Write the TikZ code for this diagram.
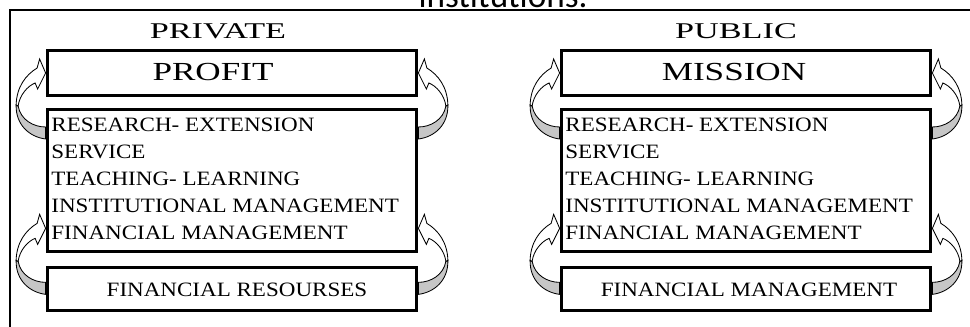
\documentclass[tikz,border=0pt]{standalone}
\usepackage{fontspec}
\setmainfont{Liberation Serif}
\newfontfamily\headfont[FakeStretch=1.52]{Liberation Serif}
\newfontfamily\titlefont[FakeStretch=1.35]{Liberation Serif}
\newfontfamily\bodyfont[FakeStretch=1.13]{Liberation Serif}
\newfontfamily\captionfont{Carlito}
\usetikzlibrary{calc,backgrounds}

\tikzset{
	block/.style={draw, line width=2.6pt, fill=white, inner sep=0pt, minimum width=9.225cm},
	headtext/.style={font=\headfont\fontsize{16}{19}\selectfont, inner sep=0pt},
	titletext/.style={font=\titlefont\fontsize{18.5}{22}\selectfont, inner sep=0pt},
	bodytext/.style={font=\bodyfont\fontsize{14.5}{17}\selectfont, inner sep=0pt},
	ribbon/.style={draw, line width=0.6pt, fill=white},
	ribbonback/.style={draw, line width=0.6pt, fill=gray!45},
	% twisted band arrow, tip at the origin, tail 54..66 below
	curl/.pic={
		\path[ribbonback] (-29.5,32) .. controls (-30,52) and (-16,64) .. (0,66) -- (0,54)
			.. controls (-12,54) and (-25,47) .. (-27.5,33) -- cycle;
		\path[ribbon] (0,0) -- (-6,-14) -- (-8.5,-5) .. controls (-20,2) and (-29,14) .. (-29.5,32)
			-- (-27.5,33) .. controls (-26,22) and (-18,13) .. (-10.5,10) -- (-8,16) -- cycle;
	}
}

\begin{document}
\begin{tikzpicture}[x=0.025cm, y=-0.025cm]
	\useasboundingbox (0,0) rectangle (970,327);
	\clip (0,0) rectangle (970,327);

	%frame
	\draw[line width=1.4pt] (10,327) -- (10,10) -- (970,10);
	\node[font=\captionfont\fontsize{25}{30}\selectfont, anchor=base, inner sep=0pt] (caption) at (503,8) {institutions.};

	%private side
	\node[headtext, anchor=base] (privname) at (218,39) {PRIVATE};
	\node[block, minimum height=1.125cm] (privgoal) at (232,73) {};
	\node[titletext, anchor=base] (privgoaltext) at (213,81) {PROFIT};
	\node[block, minimum height=3.55cm] (privwork) at (232,180.5) {};
	\foreach \task [count=\i] in {RESEARCH- EXTENSION, SERVICE, TEACHING- LEARNING, INSTITUTIONAL MANAGEMENT, FINANCIAL MANAGEMENT}{
		\node[bodytext, anchor=base west] (privtask\i) at ($(privwork.north west)+(5.5,-3.5+27*\i)$) {\task};
	}
	\node[block, minimum height=1.075cm] (privfunds) at (232,289) {};
	\node[bodytext, anchor=base] (privfundstext) at (237,296) {FINANCIAL RESOURSES};

	%public side
	\node[headtext, anchor=base] (pubname) at (736,39) {PUBLIC};
	\node[block, minimum height=1.125cm] (pubgoal) at (746,73) {};
	\node[titletext, anchor=base] (pubgoaltext) at (734,81) {MISSION};
	\node[block, minimum height=3.55cm] (pubwork) at (746,180.5) {};
	\foreach \task [count=\i] in {RESEARCH- EXTENSION, SERVICE, TEACHING- LEARNING, INSTITUTIONAL MANAGEMENT, FINANCIAL MANAGEMENT}{
		\node[bodytext, anchor=base west] (pubtask\i) at ($(pubwork.north west)+(5.5,-3.5+27*\i)$) {\task};
	}
	\node[block, minimum height=1.075cm] (pubfunds) at (746,289) {};
	\node[bodytext, anchor=base] (pubfundstext) at (749,296) {FINANCIAL MANAGEMENT};

	%loops between the blocks
	\begin{scope}[on background layer]
		\foreach \side in {priv, pub}{
			\pic at (\side goal.west) {curl};
			\pic[xscale=-1] at (\side goal.east) {curl};
			\pic at ($(\side work.south west)+(0,-25)$) {curl};
			\pic[xscale=-1] at ($(\side work.south east)+(0,-25)$) {curl};
		}
	\end{scope}
\end{tikzpicture}
\end{document}
